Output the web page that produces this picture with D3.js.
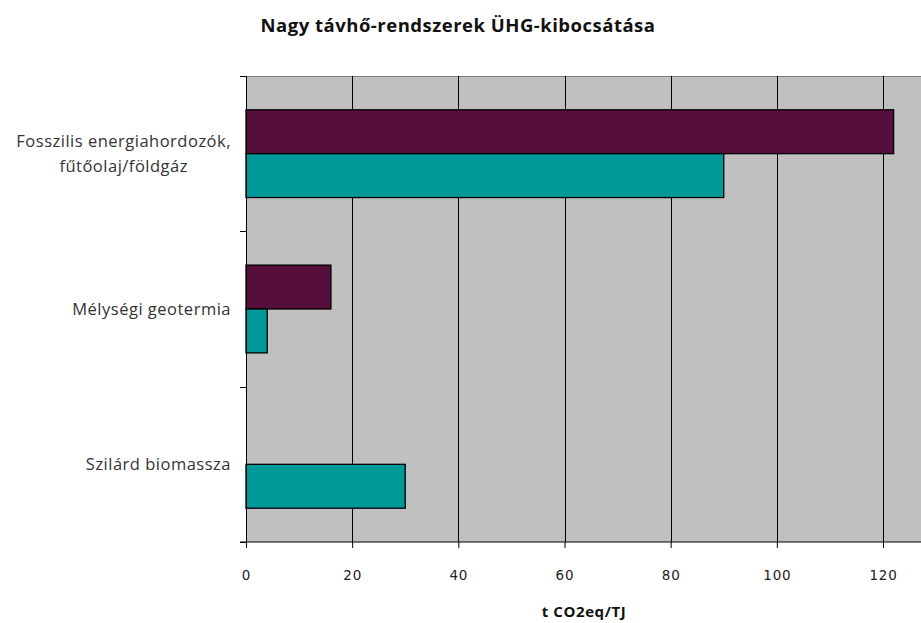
<!DOCTYPE html>
<html>
<head>
<meta charset="utf-8">
<script src="https://cdn.jsdelivr.net/npm/d3@7"></script>
<style>
  body { margin: 0; background: #fff; }
  svg { display: block; }
</style>
</head>
<body>
<div id="chart"></div>
<script>
// data
const categories = ["Fosszilis energiahordozók,\nfűtőolaj/földgáz", "Mélységi geotermia", "Szilárd biomassza"];
const seriesNames = ["A", "B"];
const seriesA = [122, 16, 0];
const seriesB = [90, 4, 30];
const xTicks = [0, 20, 40, 60, 80, 100, 120];

const colors = {A: "#560F3C", B: "#009999"};

const width = 921, height = 623;
const margin = {top: 76, right: 0, bottom: 81, left: 246};

const svg = d3.select("#chart").append("svg")
    .attr("width", width)
    .attr("height", height);

// x scale: 120 sits at 883px, plot runs off the right edge
const x = d3.scaleLinear()
    .domain([0, 120])
    .range([margin.left, 883]);

const y0 = d3.scaleBand()
    .domain(categories)
    .range([margin.top, height - margin.bottom])
    .padding(0);

const y1 = d3.scaleBand()
    .domain(seriesNames)
    .range([0, y0.bandwidth()])
    .paddingInner(0)
    .paddingOuter(0.77);

const rows = categories.map((c, i) => ({cat: c, A: seriesA[i], B: seriesB[i]}));

// plot background
svg.append("rect")
    .attr("x", margin.left)
    .attr("y", margin.top)
    .attr("width", width - margin.left)
    .attr("height", height - margin.bottom - margin.top)
    .attr("fill", "#C0C0C0");

// top border
svg.append("line")
    .attr("x1", margin.left - 6).attr("x2", width)
    .attr("y1", margin.top + 0.5).attr("y2", margin.top + 0.5)
    .attr("stroke", "#808080");

// vertical gridlines
svg.append("g")
    .selectAll("line")
    .data(xTicks.slice(1))
    .join("line")
    .attr("x1", d => Math.round(x(d)) + 0.5)
    .attr("x2", d => Math.round(x(d)) + 0.5)
    .attr("y1", margin.top)
    .attr("y2", height - margin.bottom)
    .attr("stroke", "#000")
    .attr("stroke-width", 1);

// bars
const groups = svg.append("g")
    .selectAll("g")
    .data(rows)
    .join("g")
    .attr("transform", d => `translate(0,${y0(d.cat)})`);

groups.selectAll("rect")
    .data(d => seriesNames.map(k => ({key: k, value: d[k]})).filter(e => e.value > 0))
    .join("rect")
    .attr("x", x(0))
    .attr("y", d => y1(d.key))
    .attr("width", d => x(d.value) - x(0))
    .attr("height", y1.bandwidth())
    .attr("fill", d => colors[d.key])
    .attr("stroke", "#000")
    .attr("stroke-width", 1.3);

// x axis
const xAxis = d3.axisBottom(x)
    .tickValues(xTicks)
    .tickSize(6)
    .tickPadding(22);

const gx = svg.append("g")
    .attr("transform", `translate(0,${height - margin.bottom})`)
    .call(xAxis);
gx.select(".domain").remove();
gx.append("line")
    .attr("x1", margin.left - 6).attr("x2", width)
    .attr("stroke", "#000");
gx.selectAll(".tick line").attr("stroke", "#000");
gx.selectAll(".tick text")
    .attr("fill", "#222")
    .style("font-family", "DejaVu Sans")
    .style("font-size", "13.5px")
    .style("letter-spacing", "0.8px");

// y axis with ticks at band borders
const yTickVals = categories.map(c => y0(c)).concat([height - margin.bottom]);
svg.append("line")
    .attr("x1", margin.left + 0.5).attr("x2", margin.left + 0.5)
    .attr("y1", margin.top).attr("y2", height - margin.bottom)
    .attr("stroke", "#000");
svg.append("g")
    .selectAll("line")
    .data(yTickVals)
    .join("line")
    .attr("x1", margin.left - 6).attr("x2", margin.left)
    .attr("y1", d => Math.round(d) + 0.5)
    .attr("y2", d => Math.round(d) + 0.5)
    .attr("stroke", "#000");

// category labels
const labels = svg.append("g")
    .style("font-family", "Open Sans")
    .style("font-size", "16.5px")
    .style("letter-spacing", "0.5px")
    .attr("fill", "#333");

categories.forEach(c => {
    const lines = c.split("\n");
    const cy = y0(c) + y0.bandwidth() / 2;
    const lineH = 25;
    const t = labels.append("text");
    lines.forEach((ln, i) => {
        t.append("tspan")
            .attr("x", 0)
            .attr("y", cy + (i - (lines.length - 1) / 2) * lineH)
            .attr("dy", "0.35em")
            .text(ln);
    });
    // right-align the block, centre the lines inside it
    const spans = t.selectAll("tspan").nodes();
    const widths = spans.map(n => n.getComputedTextLength());
    const maxW = d3.max(widths);
    const rightEdge = margin.left - 15;
    spans.forEach((n, i) => {
        d3.select(n).attr("x", rightEdge - maxW + (maxW - widths[i]) / 2);
    });
});

// title
svg.append("text")
    .attr("x", 458)
    .attr("y", 32)
    .attr("text-anchor", "middle")
    .style("font-family", "Open Sans")
    .style("font-weight", "bold")
    .style("font-size", "18.5px")
    .style("letter-spacing", "0.5px")
    .attr("fill", "#111")
    .text("Nagy távhő-rendszerek ÜHG-kibocsátása");

// x axis title
svg.append("text")
    .attr("x", 584)
    .attr("y", 617)
    .attr("text-anchor", "middle")
    .style("font-family", "Open Sans")
    .style("font-weight", "bold")
    .style("font-size", "15px")
    .style("letter-spacing", "0.6px")
    .attr("fill", "#111")
    .text("t CO2eq/TJ");
</script>
</body>
</html>
